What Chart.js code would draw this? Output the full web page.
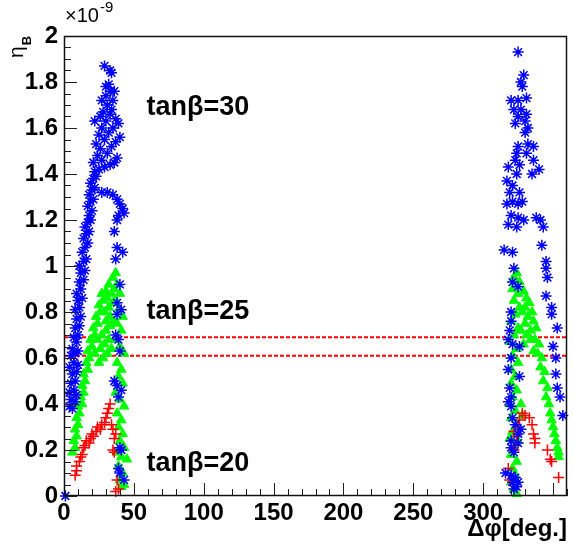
<!DOCTYPE html>
<html>
<head>
<meta charset="utf-8">
<script src="https://cdn.jsdelivr.net/npm/chart.js@4.4.1/dist/chart.umd.min.js"></script>
<style>
  html, body { margin: 0; padding: 0; background: #fff; }
  #wrap { width: 574px; height: 544px; }
</style>
</head>
<body>
<div id="wrap"><canvas id="etaChart" width="574" height="544"></canvas></div>
<script>
// tan(beta)=30, blue asterisks (x: delta phi in deg, y: eta_B in 1e-9)
var blueX = [1,
  4, 6, 5, 8, 4, 7, 9, 5, 8, 6, 9, 4, 7, 10, 5, 8, 6, 10, 9,
  7, 10, 8, 11, 9, 12, 8, 11, 10, 13, 9, 12, 11, 14, 12, 15, 11,
  14, 16, 13, 15, 17, 14, 16, 18, 15, 17, 19,
  18, 20, 17, 19, 21, 18, 20, 22, 19, 21, 23,
  22, 25, 29, 33, 21, 27, 36, 24, 31, 38, 26, 34, 23, 29, 37, 40, 25, 32, 27, 35, 39, 22, 30, 26, 33, 37,
  27, 31, 35, 38, 40, 42, 39, 43, 38, 36, 38, 42, 37, 40,
  28, 34, 31, 27, 35, 30, 33, 30, 32, 36, 34, 33, 29,
  38, 41, 38, 37, 39, 40, 36, 38, 41, 39, 40, 41, 39, 40, 43,
  325, 329, 327, 328,
  320, 325, 331, 322, 327, 331, 325, 330, 323, 332, 330,
  325, 332, 336, 324, 331, 323, 326, 318, 324, 336, 335, 340, 317, 321, 319, 326,
  317, 321, 325, 328, 320, 325, 329, 318, 324, 338, 341, 343,
  315, 321, 342, 345, 345, 346, 322, 321, 325, 345, 349, 349, 320, 320, 319, 353,
  318, 321, 326, 350, 320, 352, 318, 326, 352, 319, 320, 318, 320, 353, 355, 357,
  321, 323, 327, 325, 320, 325, 320, 322, 316, 320, 323, 321, 325, 322, 324];
var blueY = [0.0,
  0.39, 0.38, 0.42, 0.41, 0.45, 0.46, 0.44, 0.49, 0.50, 0.53, 0.54, 0.56, 0.58, 0.57, 0.61, 0.62, 0.64, 0.63, 0.67,
  0.69, 0.70, 0.73, 0.74, 0.77, 0.78, 0.81, 0.82, 0.85, 0.86, 0.88, 0.90, 0.93, 0.94, 0.97, 0.98, 1.00,
  1.02, 1.03, 1.06, 1.08, 1.10, 1.12, 1.14, 1.15, 1.17, 1.19, 1.20,
  1.22, 1.24, 1.26, 1.28, 1.29, 1.31, 1.33, 1.34, 1.36, 1.38, 1.39,
  1.41, 1.42, 1.43, 1.44, 1.45, 1.46, 1.45, 1.48, 1.49, 1.47, 1.51, 1.52, 1.53, 1.55, 1.54, 1.56, 1.57, 1.58, 1.60, 1.60, 1.62, 1.63, 1.63, 1.65, 1.66, 1.64,
  1.32, 1.32, 1.31, 1.29, 1.27, 1.25, 1.22, 1.23, 1.20, 1.15, 1.08, 1.06, 1.03, 0.92,
  1.67, 1.68, 1.70, 1.72, 1.72, 1.74, 1.76, 1.78, 1.79, 1.76, 1.84, 1.85, 1.87,
  0.84, 0.81, 0.79, 0.70, 0.68, 0.63, 0.50, 0.48, 0.46, 0.43, 0.21, 0.20, 0.12, 0.10, 0.07,
  1.93, 1.83, 1.80, 1.78,
  1.72, 1.72, 1.73, 1.68, 1.68, 1.66, 1.65, 1.63, 1.62, 1.60, 1.58,
  1.52, 1.53, 1.52, 1.49, 1.49, 1.46, 1.44, 1.43, 1.40, 1.46, 1.40, 1.42, 1.37, 1.35, 1.32, 1.32,
  1.27, 1.28, 1.27, 1.28, 1.22, 1.21, 1.20, 1.18, 1.17, 1.21, 1.20, 1.17,
  1.07, 1.06, 1.09, 1.02, 0.99, 0.95, 0.99, 0.93, 0.91, 0.87, 0.82, 0.79, 0.80, 0.76, 0.72, 0.73,
  0.68, 0.66, 0.65, 0.65, 0.60, 0.60, 0.55, 0.52, 0.53, 0.47, 0.43, 0.41, 0.39, 0.47, 0.43, 0.35,
  0.34, 0.31, 0.29, 0.27, 0.24, 0.23, 0.21, 0.19, 0.10, 0.09, 0.08, 0.06, 0.06, 0.03, 0.04];

// tan(beta)=25, green triangles
var greenX = [
  6, 8, 7, 9, 8, 10, 9, 11, 10, 13, 12, 14, 13, 15, 14, 17, 16, 18, 17, 20, 19, 22, 21, 24, 23, 26, 25, 28, 27, 30, 32, 35, 37,
  24, 27, 30, 26, 29, 32, 28, 31, 34, 30, 33, 29, 32, 35, 31, 34, 36, 33, 36, 25, 22,
  38, 40, 37, 39, 42, 38, 41, 37, 40, 43, 38, 41, 39, 42, 37, 40, 43, 38, 41, 39, 42, 40, 43, 38, 41, 45, 39, 42, 40, 41, 43,
  324, 322, 326, 321, 325, 322, 326, 323, 320, 325, 322, 319, 324, 321, 325, 320, 323, 320, 324, 321, 319, 323, 320, 324, 321, 319, 325, 322, 320, 324, 321, 323, 320, 322, 324, 327, 328,
  329, 331, 330, 333, 335, 332, 336, 334, 338, 337, 340, 339, 342, 341, 344, 343, 346, 345, 347, 348, 349, 350, 351, 352, 353, 354, 354,
  328, 330, 327, 331, 334, 329, 336];
var greenY = [
  0.19, 0.21, 0.24, 0.26, 0.29, 0.31, 0.34, 0.36, 0.39, 0.40, 0.43, 0.45, 0.48, 0.50, 0.53, 0.55, 0.58, 0.60, 0.63, 0.65, 0.68, 0.70, 0.73, 0.75, 0.78, 0.80, 0.83, 0.85, 0.88, 0.89, 0.92, 0.95, 0.97,
  0.68, 0.70, 0.72, 0.64, 0.66, 0.68, 0.60, 0.62, 0.64, 0.76, 0.78, 0.80, 0.82, 0.84, 0.86, 0.88, 0.90, 0.74, 0.76, 0.58, 0.62,
  0.92, 0.88, 0.85, 0.81, 0.78, 0.75, 0.72, 0.68, 0.65, 0.62, 0.58, 0.55, 0.52, 0.49, 0.45, 0.42, 0.39, 0.36, 0.33, 0.30, 0.27, 0.24, 0.21, 0.19, 0.17, 0.16, 0.13, 0.10, 0.07, 0.04, 0.05,
  0.97, 0.95, 0.93, 0.90, 0.88, 0.85, 0.82, 0.79, 0.76, 0.73, 0.70, 0.67, 0.64, 0.61, 0.58, 0.55, 0.52, 0.49, 0.46, 0.43, 0.40, 0.37, 0.34, 0.31, 0.28, 0.25, 0.24, 0.21, 0.18, 0.15, 0.12, 0.09, 0.06, 0.03, 0.01, 0.40, 0.35,
  0.89, 0.86, 0.82, 0.84, 0.80, 0.78, 0.76, 0.72, 0.73, 0.68, 0.66, 0.62, 0.60, 0.56, 0.54, 0.50, 0.47, 0.43, 0.40, 0.36, 0.33, 0.30, 0.27, 0.24, 0.21, 0.19, 0.17,
  0.80, 0.75, 0.72, 0.70, 0.68, 0.66, 0.63];

// tan(beta)=20, red crosses
var redX = [
  8, 9, 9, 11, 12, 13, 14, 15, 16, 18, 19, 21, 20, 23, 24, 26, 27, 29, 30, 31, 32, 33, 34, 35, 37, 36, 35, 36, 38, 37, 39,
  328, 330, 326, 333, 335, 336, 337, 337, 322, 324, 323, 322, 346, 348, 349, 354, 319, 322, 318, 325];
var redY = [
  0.09, 0.11, 0.13, 0.15, 0.17, 0.18, 0.21, 0.22, 0.24, 0.23, 0.25, 0.26, 0.27, 0.28, 0.30, 0.29, 0.31, 0.32, 0.34, 0.36, 0.38, 0.40, 0.31, 0.29, 0.27, 0.25, 0.20, 0.19, 0.07, 0.02, 0.03,
  0.36, 0.35, 0.33, 0.34, 0.31, 0.27, 0.25, 0.23, 0.28, 0.26, 0.22, 0.20, 0.20, 0.16, 0.15, 0.08, 0.07, 0.05, 0.12, 0.30];

// observed eta_B band (dashed red lines)
var bandLow = 0.61;
var bandHigh = 0.69;
var xRange = [0, 360];
var yRange = [0, 2];

function pts(xs, ys) {
  var out = [];
  for (var i = 0; i < xs.length; i++) out.push({ x: xs[i], y: ys[i] });
  return out;
}

var labelFont = "'Liberation Sans', Arial, sans-serif";

var rootFrame = {
  id: "rootFrame",
  afterDatasetsDraw: function (chart) {
    var c = chart.ctx, a = chart.chartArea;
    var xs = chart.scales.x, ys = chart.scales.y;
    c.save();
    c.strokeStyle = "#222";
    c.lineWidth = 1;
    // minor + major ticks on x
    for (var v = xRange[0]; v <= xRange[1]; v += 10) {
      var px = Math.round(xs.getPixelForValue(v)) + 0.5;
      var len = v % 50 === 0 ? 13 : 7;
      c.beginPath();
      c.moveTo(px, a.bottom);
      c.lineTo(px, a.bottom - len);
      c.stroke();
    }
    for (var k = 0; k <= 40; k++) {
      var yv = k * 0.05;
      var py = Math.round(ys.getPixelForValue(yv)) + 0.5;
      var l2 = k % 4 === 0 ? 13 : 7;
      c.beginPath();
      c.moveTo(a.left, py);
      c.lineTo(a.left + l2, py);
      c.stroke();
    }
    c.lineWidth = 1.5;
    c.strokeStyle = "#111";
    c.strokeRect(a.left + 0.5, a.top + 0.5, a.right - a.left - 1, a.bottom - a.top - 1);
    c.restore();
  },
  afterDraw: function (chart) {
    var c = chart.ctx, a = chart.chartArea;
    var xs = chart.scales.x, ys = chart.scales.y;
    c.save();
    c.fillStyle = "#000";
    c.textBaseline = "alphabetic";
    // exponent
    c.font = "20px " + labelFont;
    c.textAlign = "left";
    c.fillText("\u00d710", a.left + 1, 22);
    var w = c.measureText("\u00d710").width;
    c.font = "15px " + labelFont;
    c.fillText("-9", a.left + 2 + w, 12);
    // y title, rotated
    c.save();
    c.translate(23, 58);
    c.rotate(-Math.PI / 2);
    c.font = "21px " + labelFont;
    c.fillText("\u03b7", 0, 0);
    var ew = c.measureText("\u03b7").width;
    c.font = "bold 13px " + labelFont;
    c.fillText("B", ew + 1, 8);
    c.restore();
    // x title
    c.font = "bold 24px " + labelFont;
    c.textAlign = "right";
    c.fillText("\u0394\u03c6[deg.]", a.right, 536);
    // tan beta labels
    c.font = "bold 27px " + labelFont;
    c.textAlign = "left";
    c.textBaseline = "middle";
    var notes = [["tan\u03b2=30", 59, 1.69], ["tan\u03b2=25", 59, 0.80], ["tan\u03b2=20", 59, 0.14]];
    notes.forEach(function (n) {
      c.fillText(n[0], xs.getPixelForValue(n[1]), ys.getPixelForValue(n[2]));
    });
    c.restore();
  }
};

new Chart(document.getElementById("etaChart").getContext("2d"), {
  type: "scatter",
  data: {
    datasets: [
      {
        label: "tanb=30",
        data: pts(blueX, blueY),
        pointStyle: "star",
        radius: 5.5,
        borderColor: "#0000ff",
        backgroundColor: "#0000ff",
        borderWidth: 1.5,
        order: 1
      },
      {
        label: "tanb=20",
        data: pts(redX, redY),
        pointStyle: "cross",
        radius: 5.5,
        borderColor: "#ff0000",
        backgroundColor: "#ff0000",
        borderWidth: 1.5,
        order: 2
      },
      {
        label: "tanb=25",
        data: pts(greenX, greenY),
        pointStyle: "triangle",
        radius: 5.5,
        borderColor: "#00ff00",
        backgroundColor: "#00ff00",
        borderWidth: 1,
        order: 3
      },
      {
        type: "line",
        label: "low",
        data: [{ x: xRange[0], y: bandLow }, { x: xRange[1], y: bandLow }],
        borderColor: "#ff0000",
        borderDash: [4, 2],
        borderWidth: 2,
        pointRadius: 0,
        order: 4
      },
      {
        type: "line",
        label: "high",
        data: [{ x: xRange[0], y: bandHigh }, { x: xRange[1], y: bandHigh }],
        borderColor: "#ff0000",
        borderDash: [4, 2],
        borderWidth: 2,
        pointRadius: 0,
        order: 4
      }
    ]
  },
  options: {
    responsive: false,
    animation: false,
    clip: false,
    layout: { padding: { top: 36, right: 3, left: 0, bottom: 0 } },
    scales: {
      x: {
        type: "linear",
        min: xRange[0],
        max: xRange[1],
        afterBuildTicks: function (s) {
          s.ticks = s.ticks.filter(function (t) { return t.value % 50 === 0; });
        },
        afterFit: function (s) { s.height = 48; },
        grid: { display: false, drawTicks: false },
        border: { display: false },
        ticks: {
          stepSize: 50,
          padding: 3,
          color: "#000",
          maxRotation: 0,
          font: { family: labelFont, size: 24, weight: "bold" }
        }
      },
      y: {
        min: yRange[0],
        max: yRange[1],
        afterFit: function (s) { s.width = 64; },
        grid: { display: false, drawTicks: false },
        border: { display: false },
        ticks: {
          stepSize: 0.2,
          padding: 6,
          color: "#000",
          font: { family: labelFont, size: 24, weight: "bold" },
          callback: function (v) { return String(+v.toFixed(1)); }
        }
      }
    },
    plugins: {
      legend: { display: false },
      tooltip: { enabled: false }
    }
  },
  plugins: [rootFrame]
});
</script>
</body>
</html>
